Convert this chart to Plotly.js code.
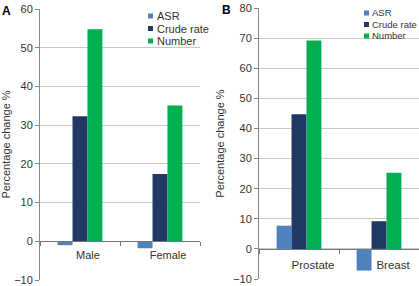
<!DOCTYPE html>
<html><head><meta charset="utf-8">
<script src="https://cdn.plot.ly/plotly-3.0.1.min.js"></script>
<style>html,body{margin:0;padding:0;background:#fff}#c{width:419px;height:286px}</style>
</head><body><div id="c"></div>
<script>
var seriesNames = ["ASR", "Crude rate", "Number"];
var colors = ["#4F81BD", "#1F3864", "#00B050"];
var catsA = ["Male", "Female"];
var asrA = [-1.0, -1.8];
var crudeA = [32.3, 17.4];
var numberA = [54.8, 35.1];
var catsB = ["Prostate", "Breast"];
var asrB = [7.7, -7.2];
var crudeB = [44.7, 9.2];
var numberB = [69.2, 25.3];

var font = "Liberation Sans, Arial, sans-serif";
var W = 419, H = 286;
var dataA = [asrA, crudeA, numberA];
var dataB = [asrB, crudeB, numberB];
var traces = [];
for (var i = 0; i < 3; i++) {
  traces.push({type: "bar", name: seriesNames[i], x: catsA, y: dataA[i], xaxis: "x", yaxis: "y",
    marker: {color: colors[i]}, showlegend: false});
}
for (var i = 0; i < 3; i++) {
  traces.push({type: "bar", name: seriesNames[i], x: catsB, y: dataB[i], xaxis: "x2", yaxis: "y2",
    marker: {color: colors[i]}, showlegend: false});
}
function yax(dom, range, dtick, anchor) {
  return {domain: dom, range: range, dtick: dtick, anchor: anchor, showgrid: true, gridcolor: "#c8c8c8", gridwidth: 1,
    zeroline: false, showline: true, linecolor: "#888", ticks: "outside", ticklen: 4, tickcolor: "#888",
    tickfont: {size: 11, color: "#333"}, fixedrange: true,
    title: {text: "Percentage change %", font: {size: 11, color: "#333"}, standoff: 6}};
}
function xax(dom, pos, shift, fs, standoff) {
  return {domain: dom, anchor: "free", position: pos, type: "category", showline: true, linecolor: "#777",
    ticks: "outside", tickson: "boundaries", ticklen: 4, tickcolor: "#777", showgrid: false,
    ticklabelstandoff: standoff, ticklabelshift: shift, tickfont: {size: fs, color: "#333"}};
}
// custom compact legends
var shapes = [], annotations = [];
function addLegend(x0, yTops, gap, fs) {
  for (var i = 0; i < seriesNames.length; i++) {
    var yc = yTops[i];
    shapes.push({type: "rect", xref: "paper", yref: "paper", x0: x0 / W, x1: (x0 + 5) / W,
      y0: 1 - (yc + 2.5) / H, y1: 1 - (yc - 2.5) / H, fillcolor: colors[i], line: {width: 0}});
    annotations.push({text: seriesNames[i], xref: "paper", yref: "paper", x: (x0 + gap) / W, y: 1 - yc / H,
      xanchor: "left", yanchor: "middle", showarrow: false, borderpad: 0, font: {size: fs, color: "#333"}});
  }
}
addLegend(148, [16, 28.5, 41], 8, 11);
addLegend(364, [13, 24.5, 36], 7, 9.5);
annotations.push({text: "<b>A</b>", xref: "paper", yref: "paper", x: 0, y: 1 - 2 / H, xanchor: "left", yanchor: "top",
  showarrow: false, font: {size: 12, color: "#000"}});
annotations.push({text: "<b>B</b>", xref: "paper", yref: "paper", x: 220 / W, y: 1 - 1 / H, xanchor: "left", yanchor: "top",
  showarrow: false, font: {size: 12, color: "#000"}});

var layout = {
  width: W, height: H, margin: {l: 0, r: 0, t: 0, b: 0},
  paper_bgcolor: "#fff", plot_bgcolor: "#fff", font: {family: font, color: "#333"},
  barmode: "group", bargap: 0.44, bargroupgap: 0, showlegend: false,
  xaxis: xax([40 / W, 200 / W], (H - 241) / H, 8, 11, 4),
  yaxis: yax([6 / H, 277 / H], [-10, 60], 10, "x"),
  xaxis2: xax([259 / W, 1], (H - 249) / H, 14, 11.5, 5),
  yaxis2: yax([7 / H, 278 / H], [-10, 80], 10, "x2"),
  shapes: shapes,
  annotations: annotations
};
Plotly.newPlot("c", traces, layout, {staticPlot: true, displayModeBar: false});
</script></body></html>
